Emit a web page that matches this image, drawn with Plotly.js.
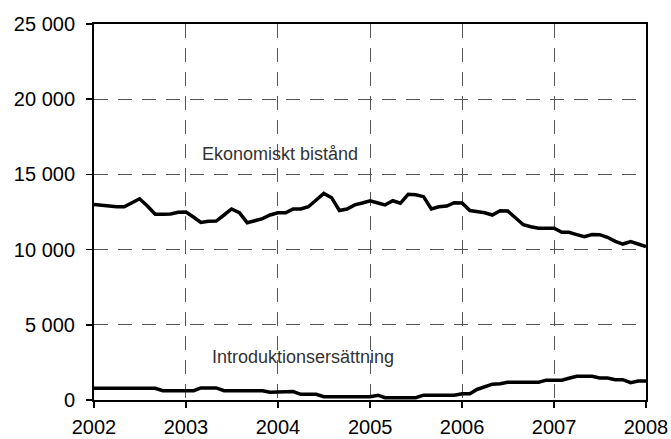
<!DOCTYPE html>
<html>
<head>
<meta charset="utf-8">
<script src="https://cdn.plot.ly/plotly-3.0.1.min.js"></script>
<style>html,body{margin:0;padding:0;background:#fff;}#chart{width:671px;height:439px;}</style>
</head>
<body>
<div id="chart"></div>
<script>
// Monthly values, Jan 2002 .. Jan 2008
const startYear = 2002;
const ekonomisktBistand = [
  13000, 12950, 12850, 12850, 12850, 13100, 13380, 12900, 12350, 12350, 12370, 12480,
  12500, 12150, 11810, 11880, 11900, 12300, 12700, 12450, 11790, 11920, 12060, 12300,
  12450, 12450, 12700, 12700, 12850, 13300, 13740, 13450, 12600, 12700, 12970, 13100,
  13250, 13100, 12970, 13250, 13080, 13680, 13650, 13520, 12700, 12850, 12900, 13120,
  13100, 12600, 12550, 12450, 12300, 12590, 12570, 12080, 11650, 11520, 11420, 11420,
  11420, 11150, 11150, 11000, 10860, 11000, 10990, 10820, 10550, 10370, 10530, 10370,
  10200
];
const introduktionsersattning = [
  780, 780, 780, 780, 780, 780, 780, 780, 780, 620, 620, 620,
  620, 620, 800, 800, 800, 620, 620, 620, 620, 620, 620, 520,
  520, 520, 560, 380, 380, 380, 220, 220, 220, 220, 220, 220,
  220, 320, 150, 150, 150, 150, 150, 320, 320, 320, 320, 320,
  420, 420, 700, 900, 1050, 1080, 1180, 1180, 1180, 1180, 1180, 1320,
  1320, 1320, 1450, 1580, 1580, 1580, 1460, 1460, 1350, 1350, 1150, 1260,
  1260
];
const yTickVals = [0, 5000, 10000, 15000, 20000, 25000];
const labelEkonomiskt = "Ekonomiskt bistånd";
const labelIntro = "Introduktionsersättning";

function monthDates(n) {
  const out = [];
  for (let i = 0; i < n; i++) {
    const y = startYear + Math.floor(i / 12);
    const m = (i % 12) + 1;
    out.push(y + "-" + String(m).padStart(2, "0") + "-01");
  }
  return out;
}
const dates = monthDates(ekonomisktBistand.length);

const traces = [
  {x: dates, y: ekonomisktBistand, mode: "lines", line: {color: "#000", width: 3.5}, name: labelEkonomiskt},
  {x: dates, y: introduktionsersattning, mode: "lines", line: {color: "#000", width: 3.5}, name: labelIntro}
];

const layout = {
  width: 671, height: 439,
  margin: {l: 94, r: 25, t: 24, b: 39},
  paper_bgcolor: "#fff", plot_bgcolor: "#fff",
  showlegend: false,
  separators: ", ",
  font: {family: "Liberation Sans, Arial, sans-serif", color: "#000", size: 20},
  xaxis: {
    type: "date",
    range: [dates[0], dates[dates.length - 1]],
    tickmode: "linear", tick0: dates[0], dtick: "M12", tickformat: "%Y",
    showgrid: true, gridcolor: "#555", gridwidth: 1, griddash: "14px,10px",
    showline: true, linecolor: "#000", linewidth: 2, mirror: true,
    ticks: "outside", ticklen: 6, tickcolor: "#000", tickwidth: 1.5,
    ticklabelstandoff: 2,
    zeroline: false,
    tickfont: {size: 20, color: "#000"}
  },
  yaxis: {
    range: [0, 25000],
    tickmode: "array", tickvals: yTickVals, tickformat: ",d",
    showgrid: true, gridcolor: "#555", gridwidth: 1, griddash: "14px,10px",
    showline: true, linecolor: "#000", linewidth: 2, mirror: true,
    ticks: "outside", ticklen: 6, tickcolor: "#000", tickwidth: 1.5,
    ticklabelstandoff: 7,
    zeroline: false,
    tickfont: {size: 20, color: "#000"}
  },
  annotations: [
    {xref: "x", yref: "y", x: "2004-01-10", y: 16350, text: labelEkonomiskt, showarrow: false,
     font: {size: 18, color: "#333"}},
    {xref: "x", yref: "y", x: "2004-04-10", y: 2850, text: labelIntro, showarrow: false,
     font: {size: 18, color: "#333"}}
  ]
};

Plotly.newPlot("chart", traces, layout, {displayModeBar: false, staticPlot: true});
</script>
</body>
</html>
